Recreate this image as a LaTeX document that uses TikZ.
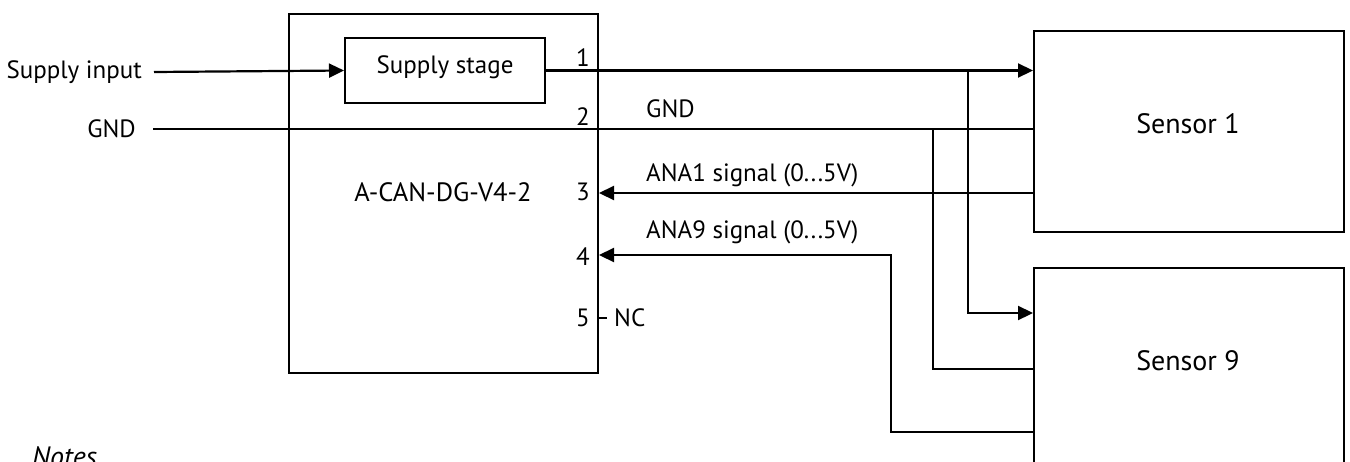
\documentclass[tikz,border=0pt]{standalone}
\usepackage{fontspec}
\setmainfont{PT Sans}
\usetikzlibrary{arrows.meta}
\begin{document}
\begin{tikzpicture}[x=1pt,y=-1pt,
  box/.style={draw,line width=2pt,inner sep=0pt},
  wire/.style={line width=1.8pt},
  arr/.style={line width=2.2pt,-{Triangle[length=15pt,width=14pt]}},
  lbl/.style={inner sep=0pt,font=\fontsize{25}{28}\selectfont},
  mlbl/.style={inner sep=0pt,font=\fontsize{26.5}{30}\selectfont},
  slbl/.style={inner sep=0pt,font=\fontsize{28}{32}\selectfont},
  pin/.style={inner sep=0pt,anchor=east,font=\fontsize{25}{28}\selectfont}]
\useasboundingbox (0,0) rectangle (1350,461);
\fill[white] (0,0) rectangle (1350,461);
% boxes
\node[box,minimum width=309pt,minimum height=359pt] (main) at (443.5,193.5) {};
\node[box,minimum width=200pt,minimum height=65pt] (sup) at (445,70.5) {};
\node[lbl] (suplbl) at (445,67) {Supply stage};
\node[mlbl] (mainlbl) at (443,192) {A-CAN-DG-V4-2};
\node[box,minimum width=310pt,minimum height=201pt] (s1) at (1189,131.5) {};
\node[box,minimum width=310pt,minimum height=201pt] (s9) at (1189,368.5) {};
\node[slbl] (s1lbl) at (1188,124) {Sensor 1};
\node[slbl] (s9lbl) at (1188,361) {Sensor 9};
% left labels
\node[lbl,anchor=east] (supin) at (142,72) {Supply input};
\node[lbl,anchor=east] (gndin) at (136,129) {GND};
% pins
\node[pin] (p1) at (590,58) {1};
\node[pin] (p2) at (590,117) {2};
\node[pin] (p3) at (590,192) {3};
\node[pin] (p4) at (590,257) {4};
\node[pin] (p5) at (590,318) {5};
% coordinates
\coordinate (a) at (154,72);
\coordinate (g) at (153,129);
\coordinate (j1) at (968,72);
\coordinate (j1b) at (968,313);
\coordinate (j2) at (933,129);
\coordinate (j2b) at (933,369);
\coordinate (k1) at (891,432);
\coordinate (k2) at (891,255);
\coordinate (nc) at (607,318);
% wires
\draw[arr] (a) -- (sup.west);
\draw[wire] (g) -- (g -| s1.west);
\draw[arr] (sup.east) -- (sup.east -| s1.west);
\draw[arr] (j1) -- (j1b) -- (j1b -| s9.west);
\draw[wire] (j2) -- (j2b) -- (j2b -| s9.west);
\draw[arr] (s1.west |- 0,193) -- (main.east |- 0,193);
\draw[arr] (s9.west |- k1) -- (k1) -- (k2) -- (k2 -| main.east);
\draw[wire] (main.east |- nc) -- (nc);
% wire labels
\node[lbl,anchor=west] (gndl) at (646,109) {GND};
\node[lbl,anchor=west] (ana1) at (646,175) {ANA1 signal (0...5V)};
\node[lbl,anchor=west] (ana9) at (646,232) {ANA9 signal (0...5V)};
\node[lbl,anchor=west] (ncl) at (614,318) {NC};
\node[lbl,anchor=north west,font=\fontsize{28}{32}\selectfont\itshape] (note) at (32,446) {Notes};
\end{tikzpicture}
\end{document}
